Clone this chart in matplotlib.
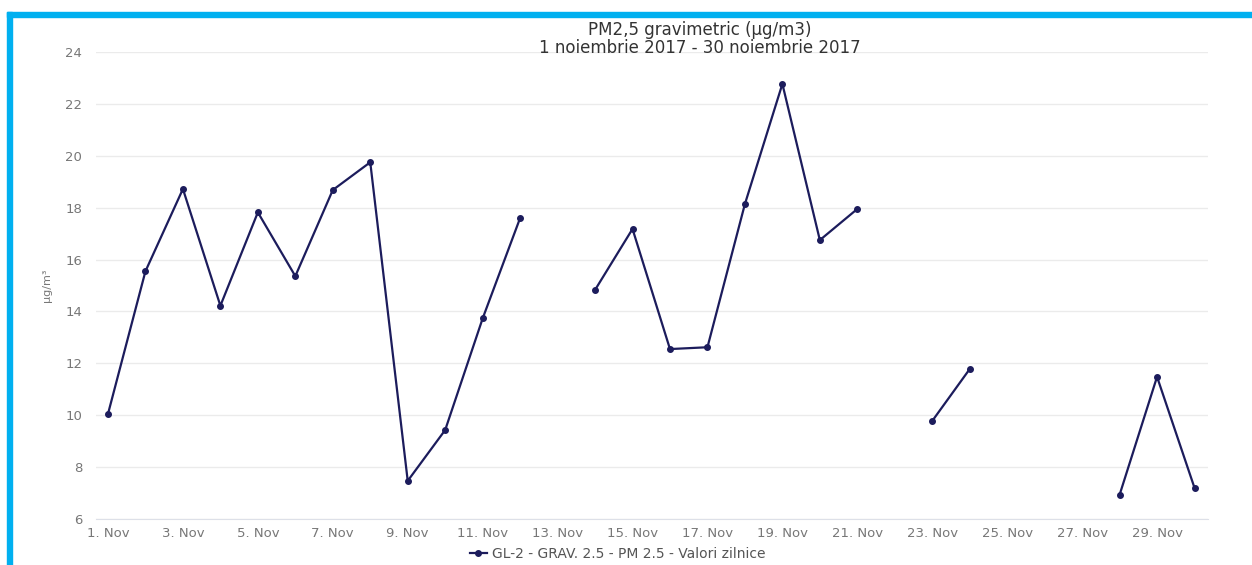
import numpy as np
import matplotlib
matplotlib.use('Agg')
import matplotlib.pyplot as plt
from matplotlib.patches import Rectangle
from matplotlib.lines import Line2D

# Daily PM2.5 gravimetric values, November 2017 (None = no data)
days = list(range(1, 31))
pm25 = [10.05, 15.55, 18.72, 14.22, 17.82, 15.36, 18.68, 19.75, 7.47, 9.43,
        13.73, 17.6, None, 14.83, 17.18, 12.55, 12.62, 18.14, 22.77, 16.75,
        17.95, None, 9.78, 11.78, None, None, None, 6.93, 11.48, 7.2]
tick_days = list(range(1, 31, 2))
tick_labels = [f'{d}. Nov' for d in tick_days]
y_ticks = list(range(6, 25, 2))

W, H = 1252, 565
fig = plt.figure(figsize=(W / 100, H / 100), dpi=100)
fig.patch.set_facecolor('white')

# blue frame (top and left edges of the screenshot)
blue = '#00b0f0'
fig.patches.append(Rectangle((7 / W, 0), 5 / W, 1 - 12 / H, transform=fig.transFigure,
                             color=blue, zorder=0))
fig.patches.append(Rectangle((7 / W, 1 - 17 / H), 1 - 7 / W, 5 / H, transform=fig.transFigure,
                             color=blue, zorder=0))

ax = fig.add_axes([96 / W, 1 - 519 / H, (1208 - 96) / W, (519 - 52) / H])

vals = np.array([np.nan if v is None else v for v in pm25])
line_color = '#1c1c5c'
ax.plot(days, vals, color=line_color, linewidth=1.6, marker='o', markersize=4,
        markerfacecolor=line_color, markeredgecolor=line_color)

ax.set_xlim(0.68, 30.36)
ax.set_ylim(6, 24)
ax.set_yticks(y_ticks)
ax.set_xticks(tick_days)
ax.set_xticklabels(tick_labels)
ax.tick_params(axis='both', colors='#777777', labelsize=9.5, length=0)
ax.tick_params(axis='y', pad=10)
ax.tick_params(axis='x', pad=6)
ax.grid(axis='y', color='#ebebeb', linewidth=1)
ax.set_axisbelow(True)
for side in ['top', 'right', 'left']:
    ax.spines[side].set_visible(False)
ax.spines['bottom'].set_color('#dde0e8')

fig.text(47 / W, 1 - 285 / H, 'µg/m³', rotation=90, ha='center', va='center',
         fontsize=8, color='#777777')

fig.text(700 / W, 1 - 39 / H, 'PM2,5 gravimetric (µg/m3)\n1 noiembrie 2017 - 30 noiembrie 2017',
         ha='center', va='center', fontsize=12, color='#333333', linespacing=1.05)

handle = Line2D([], [], color=line_color, marker='o', markersize=4, linewidth=1.6)
fig.legend([handle], ['GL-2 - GRAV. 2.5 - PM 2.5 - Valori zilnice'],
           loc='center', bbox_to_anchor=(618 / W, 1 - 554 / H), frameon=False,
           fontsize=10, labelcolor='#555555', handlelength=1.2, handletextpad=0.4)

fig.savefig('out.png', dpi=100)
